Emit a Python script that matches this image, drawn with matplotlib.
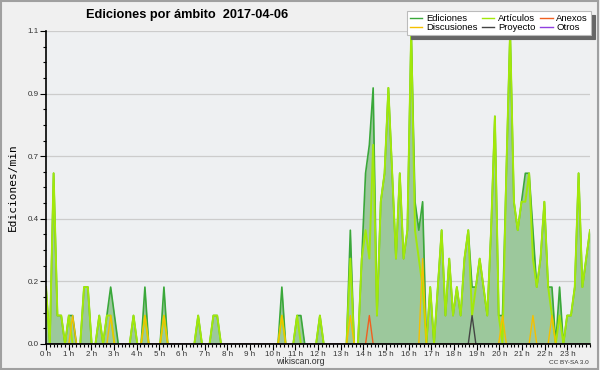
import matplotlib
matplotlib.use("Agg")
import matplotlib.pyplot as plt
from matplotlib.patches import Rectangle
import numpy as np

# edits per minute, one value per 10-minute bin (6 per hour)
ediciones = [
    0.2, 0, 0.6, 0.1, 0.1, 0,        # 0 h
    0.1, 0.1, 0, 0, 0.2, 0.2,        # 1 h
    0, 0, 0.1, 0, 0.1, 0.2,          # 2 h
    0.1, 0, 0, 0, 0, 0.1,            # 3 h
    0, 0, 0.2, 0, 0, 0,              # 4 h
    0, 0.2, 0, 0, 0, 0,              # 5 h
    0, 0, 0, 0, 0.1, 0,              # 6 h
    0, 0, 0.1, 0.1, 0, 0,            # 7 h
    0, 0, 0, 0, 0, 0,                # 8 h
    0, 0, 0, 0, 0, 0,                # 9 h
    0, 0, 0.2, 0, 0, 0,              # 10 h
    0.1, 0.1, 0, 0, 0, 0,            # 11 h
    0.1, 0, 0, 0, 0, 0,              # 12 h
    0, 0, 0.4, 0, 0, 0.3,            # 13 h
    0.6, 0.7, 0.9, 0.1, 0.5, 0.6,    # 14 h
    0.9, 0.6, 0.3, 0.6, 0.3, 0.4,    # 15 h
    1.1, 0.5, 0.4, 0.5, 0, 0.2,      # 16 h
    0, 0.2, 0.4, 0.1, 0.3, 0.1,      # 17 h
    0.2, 0.1, 0.3, 0.4, 0.2, 0.2,    # 18 h
    0.3, 0.2, 0.1, 0.4, 0.8, 0.1,    # 19 h
    0.1, 0.6, 1.1, 0.5, 0.4, 0.5,    # 20 h
    0.6, 0.6, 0.4, 0.2, 0.3, 0.5,    # 21 h
    0.2, 0.2, 0, 0.2, 0, 0.1,        # 22 h
    0.1, 0.2, 0.6, 0.2, 0.3, 0.4,    # 23 h
]

articulos = [
    0.2, 0, 0.6, 0.1, 0.1, 0,
    0.1, 0, 0, 0, 0.2, 0.2,
    0, 0, 0.1, 0, 0.1, 0.1,
    0, 0, 0, 0, 0, 0.1,
    0, 0, 0.1, 0, 0, 0,
    0, 0.1, 0, 0, 0, 0,
    0, 0, 0, 0, 0.1, 0,
    0, 0, 0.1, 0.1, 0, 0,
    0, 0, 0, 0, 0, 0,
    0, 0, 0, 0, 0, 0,
    0, 0, 0.1, 0, 0, 0,
    0.1, 0, 0, 0, 0, 0,
    0.1, 0, 0, 0, 0, 0,
    0, 0, 0.3, 0, 0, 0.3,
    0.4, 0.3, 0.7, 0.1, 0.5, 0.6,
    0.9, 0.6, 0.3, 0.6, 0.3, 0.4,
    1.1, 0.4, 0.3, 0.2, 0, 0.2,
    0, 0.2, 0.4, 0.1, 0.3, 0.1,
    0.2, 0.1, 0.3, 0.4, 0.1, 0.2,
    0.3, 0.2, 0.1, 0.4, 0.8, 0.1,
    0, 0.6, 1.1, 0.5, 0.4, 0.5,
    0.5, 0.6, 0.3, 0.2, 0.3, 0.5,
    0.2, 0.1, 0, 0.1, 0, 0.1,
    0.1, 0.2, 0.6, 0.2, 0.3, 0.4,
]

discusiones = [
    0, 0, 0, 0, 0, 0,
    0, 0.1, 0, 0, 0, 0,
    0, 0, 0, 0, 0, 0.1,
    0, 0, 0, 0, 0, 0,
    0, 0, 0.1, 0, 0, 0,
    0, 0.1, 0, 0, 0, 0,
    0, 0, 0, 0, 0, 0,
    0, 0, 0, 0, 0, 0,
    0, 0, 0, 0, 0, 0,
    0, 0, 0, 0, 0, 0,
    0, 0, 0.1, 0, 0, 0,
    0, 0, 0, 0, 0, 0,
    0, 0, 0, 0, 0, 0,
    0, 0, 0.1, 0, 0, 0,
    0, 0, 0, 0, 0, 0,
    0, 0, 0, 0, 0, 0,
    0, 0, 0, 0.3, 0, 0,
    0, 0, 0, 0, 0, 0,
    0, 0, 0, 0, 0, 0,
    0, 0, 0, 0, 0, 0,
    0.1, 0, 0, 0, 0, 0,
    0, 0, 0.1, 0, 0, 0,
    0, 0.1, 0, 0, 0, 0,
    0, 0, 0, 0, 0, 0,
]

anexos = [
    0, 0, 0, 0, 0, 0,
    0, 0, 0, 0, 0, 0,
    0, 0, 0, 0, 0, 0,
    0, 0, 0, 0, 0, 0,
    0, 0, 0, 0, 0, 0,
    0, 0, 0, 0, 0, 0,
    0, 0, 0, 0, 0, 0,
    0, 0, 0, 0, 0, 0,
    0, 0, 0, 0, 0, 0,
    0, 0, 0, 0, 0, 0,
    0, 0, 0, 0, 0, 0,
    0, 0, 0, 0, 0, 0,
    0, 0, 0, 0, 0, 0,
    0, 0, 0, 0, 0, 0,
    0, 0.1, 0, 0, 0, 0,
    0, 0, 0, 0, 0, 0,
    0, 0, 0, 0, 0, 0,
    0, 0, 0, 0, 0, 0,
    0, 0, 0, 0, 0, 0,
    0, 0, 0, 0, 0, 0,
    0, 0, 0, 0, 0, 0,
    0, 0, 0, 0, 0, 0,
    0, 0, 0, 0, 0, 0,
    0, 0, 0, 0, 0, 0,
]

proyecto = [
    0, 0, 0, 0, 0, 0,
    0, 0, 0, 0, 0, 0,
    0, 0, 0, 0, 0, 0,
    0, 0, 0, 0, 0, 0,
    0, 0, 0, 0, 0, 0,
    0, 0, 0, 0, 0, 0,
    0, 0, 0, 0, 0, 0,
    0, 0, 0, 0, 0, 0,
    0, 0, 0, 0, 0, 0,
    0, 0, 0, 0, 0, 0,
    0, 0, 0, 0, 0, 0,
    0, 0, 0, 0, 0, 0,
    0, 0, 0, 0, 0, 0,
    0, 0, 0, 0, 0, 0,
    0, 0, 0, 0, 0, 0,
    0, 0, 0, 0, 0, 0,
    0, 0, 0, 0, 0, 0,
    0, 0, 0, 0, 0, 0,
    0, 0, 0, 0, 0.1, 0,
    0, 0, 0, 0, 0, 0,
    0, 0, 0, 0, 0, 0,
    0, 0, 0, 0, 0, 0,
    0, 0, 0, 0, 0, 0,
    0, 0, 0, 0, 0, 0,
]

otros = [
    0, 0, 0, 0, 0, 0,
    0, 0, 0, 0, 0, 0,
    0, 0, 0, 0, 0, 0,
    0, 0, 0, 0, 0, 0,
    0, 0, 0, 0, 0, 0,
    0, 0, 0, 0, 0, 0,
    0, 0, 0, 0, 0, 0,
    0, 0, 0, 0, 0, 0,
    0, 0, 0, 0, 0, 0,
    0, 0, 0, 0, 0, 0,
    0, 0, 0, 0, 0, 0,
    0, 0, 0, 0, 0, 0,
    0, 0, 0, 0, 0, 0,
    0, 0, 0, 0, 0, 0,
    0, 0, 0, 0, 0, 0,
    0, 0, 0, 0, 0, 0,
    0, 0, 0, 0, 0, 0,
    0, 0, 0, 0, 0, 0,
    0, 0, 0, 0, 0, 0,
    0, 0, 0, 0, 0, 0,
    0, 0, 0, 0, 0, 0,
    0, 0, 0, 0, 0, 0,
    0, 0, 0, 0, 0, 0,
    0, 0, 0, 0, 0, 0,
]

hour_labels = ["%d h" % h for h in range(24)]
y_ticks = [0, 0.22, 0.44, 0.66, 0.88, 1.1]

plt.rcParams['font.family'] = ['Liberation Sans', 'DejaVu Sans']

x = np.linspace(0, 24, len(ediciones))

fig = plt.figure(figsize=(6, 3.7), dpi=100, facecolor='#f0f0f0')
ax = fig.add_axes([46 / 600, 1 - 344 / 370, 544 / 600, 313 / 370])
ax.set_facecolor('#eef0f2')

ax.fill_between(x, ediciones, 0, color='#9cc89c', lw=0, zorder=1.5)
l_ed, = ax.plot(x, ediciones, color='#3aa83a', lw=1.2, label='Ediciones')
l_art, = ax.plot(x, articulos, color='#a2e80a', lw=1.4, label='Artículos')
l_disc, = ax.plot(x, discusiones, color='#f5c000', lw=1.0, label='Discusiones')
l_anx, = ax.plot(x, anexos, color='#f06020', lw=1.0, label='Anexos')
l_pro, = ax.plot(x, proyecto, color='#444444', lw=1.0, label='Proyecto')
l_otr, = ax.plot(x, otros, color='#9040e0', lw=1.0, label='Otros')

ax.set_xlim(0, 24)
ax.set_ylim(0, 1.1)
ax.set_xticks(range(24))
ax.set_xticklabels(hour_labels)
ax.set_xticks(np.arange(0, 24.01, 1 / 6), minor=True)
ax.set_yticks(y_ticks)
ax.set_yticklabels(["%.1f" % v for v in y_ticks])
ax.set_yticks(np.arange(0, 1.11, 0.055), minor=True)
ax.tick_params(axis='both', which='major', labelsize=5.8, length=4, width=0.8,
               colors='black', labelcolor='#333333', pad=1)
ax.tick_params(axis='both', which='minor', length=2.5, width=0.8)
ax.yaxis.grid(True, color='#cccccc', lw=0.9)
ax.set_axisbelow(True)
for s in ['top', 'right']:
    ax.spines[s].set_visible(False)
for s in ['left', 'bottom']:
    ax.spines[s].set_linewidth(1.2)
    ax.spines[s].set_zorder(5)

ax.set_ylabel('Ediciones/min', family='DejaVu Sans Mono', fontsize=8, labelpad=7)

fig.text(187 / 600, 1 - 15 / 370, 'Ediciones por ámbito  2017-04-06',
         ha='center', va='center', fontsize=9.2, fontweight='bold')

leg = fig.legend([l_ed, l_disc, l_art, l_pro, l_anx, l_otr],
                 ['Ediciones', 'Discusiones', 'Artículos', 'Proyecto', 'Anexos', 'Otros'],
                 ncol=3, loc='upper right', bbox_to_anchor=(591 / 600, 1 - 11 / 370),
                 fontsize=6.8, frameon=True, fancybox=False, borderpad=0.3,
                 labelspacing=0.05, columnspacing=0.5, handlelength=1.3,
                 handletextpad=0.4, borderaxespad=0,
                 shadow={'color': '#666666', 'alpha': 1, 'ox': 3, 'oy': -3})
leg.get_frame().set_edgecolor('#bbbbbb')
leg.get_frame().set_linewidth(0.8)
for h in leg.legend_handles:
    h.set_linewidth(1.0)

fig.text(300 / 600, 1 - 361 / 370, 'wikiscan.org', ha='center', va='center',
         fontsize=6.3, color='#333333')
fig.text(589 / 600, 1 - 362 / 370, 'CC BY-SA 3.0', ha='right', va='center',
         fontsize=4.6, color='#333333')

fig.patches.append(Rectangle((0.001, 0.002), 0.996, 0.995, transform=fig.transFigure,
                             fill=False, edgecolor='#a0a0a0', lw=1.5))

fig.savefig('out.png', dpi=100, facecolor=fig.get_facecolor())
